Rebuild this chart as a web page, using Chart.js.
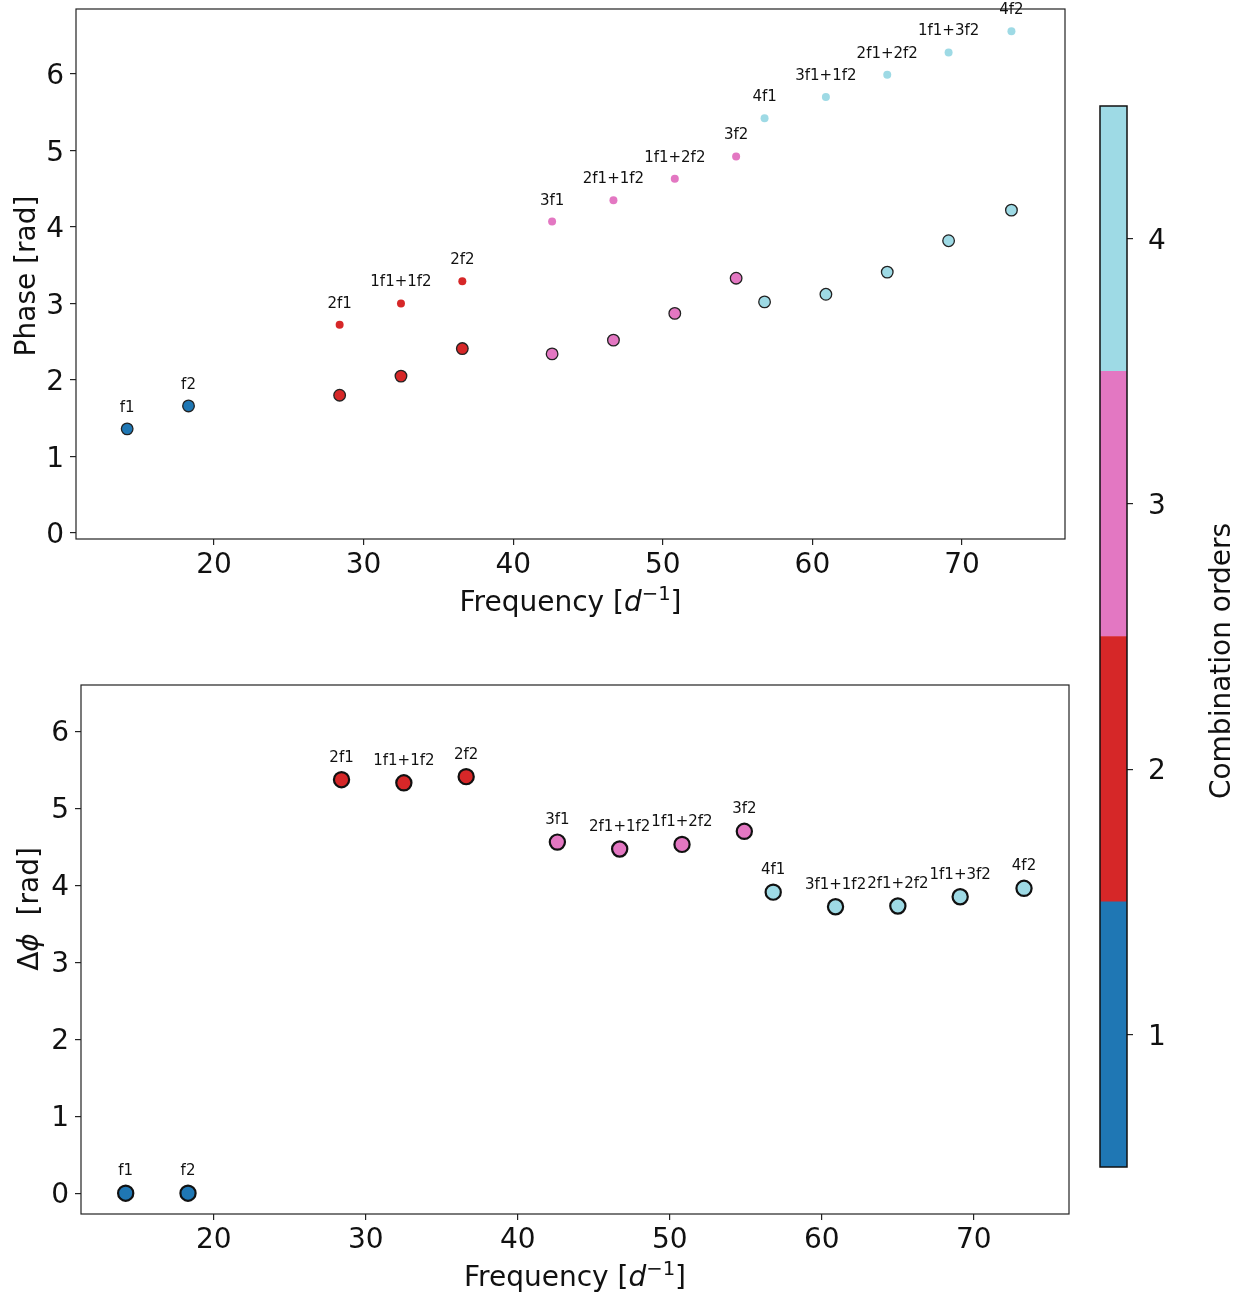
<!DOCTYPE html>
<html><head><meta charset="utf-8">
<script src="https://cdn.jsdelivr.net/npm/chart.js@4.4.1/dist/chart.umd.min.js"></script>
<style>
html,body{margin:0;padding:0;background:#fff;}
#wrap{position:relative;width:1244px;height:1297px;overflow:hidden;background:#fff;}
canvas{position:absolute;}
#c1{left:0;top:0;}
#c2{left:0;top:640px;}
#c3{left:1080px;top:90px;}
</style></head><body>
<div id="wrap">
<canvas id="c1" width="1080" height="630"></canvas>
<canvas id="c2" width="1080" height="657"></canvas>
<canvas id="c3" width="164" height="1100"></canvas>
</div>
<script>
// ---------------- data ----------------
const labels = ['f1','f2','2f1','1f1+1f2','2f2','3f1','2f1+1f2','1f1+2f2','3f2','4f1','3f1+1f2','2f1+2f2','1f1+3f2','4f2'];
const orders = [1,1,2,2,2,3,3,3,3,4,4,4,4,4];
const frequency = [14.2,18.3,28.4,32.5,36.6,42.6,46.7,50.8,54.9,56.8,60.9,65.0,69.1,73.3];
const phase = [1.36,1.66,1.80,2.05,2.41,2.34,2.52,2.87,3.33,3.02,3.12,3.41,3.82,4.22];
const phaseSum = [null,null,2.72,3.00,3.29,4.07,4.35,4.63,4.92,5.42,5.70,5.99,6.28,6.56];
const deltaPhi = [0,0,5.37,5.33,5.41,4.56,4.47,4.53,4.70,3.91,3.72,3.73,3.85,3.96];
const orderTicks = [1,2,3,4];
const orderColors = ['#1f77b4','#d62728','#e377c2','#9edae5'];
const freqTicks = [20,30,40,50,60,70];
const phaseTicks = [0,1,2,3,4,5,6];

const FONT = "'DejaVu Sans', sans-serif";
const pointColors = orders.map(o => orderColors[o-1]);
const toXY = ys => frequency.map((x,i) => ({x: x, y: ys[i]}));

// ---------------- plugins ----------------
const frame = {
  id: 'frame',
  afterDatasetsDraw(chart, args, opts) {
    const {left, top, right, bottom} = chart.chartArea;
    const ctx = chart.ctx;
    ctx.save();
    ctx.strokeStyle = opts.color || '#222';
    ctx.lineWidth = opts.width || 1.2;
    ctx.strokeRect(left, top, right-left, bottom-top);
    ctx.restore();
  }
};

const pointLabels = {
  id: 'pointLabels',
  afterDatasetsDraw(chart, args, opts) {
    if (!opts || !opts.anchors) return;
    const ctx = chart.ctx;
    ctx.save();
    ctx.font = '15px ' + FONT;
    ctx.fillStyle = '#111';
    ctx.textAlign = 'center';
    ctx.textBaseline = 'middle';
    labels.forEach((t, i) => {
      let el = null;
      for (const di of opts.anchors) {
        const e = chart.getDatasetMeta(di).data[i];
        if (e && !e.skip && isFinite(e.y)) { el = e; break; }
      }
      if (el) ctx.fillText(t, el.x, el.y - opts.offset);
    });
    ctx.restore();
  }
};

function drawParts(ctx, parts, size) {
  const segs = parts.map(p => {
    const s = p.sup ? size*0.7 : size;
    const font = (p.italic ? 'italic ' : '') + s + 'px ' + FONT;
    ctx.font = font;
    return {t: p.t, font: font, w: ctx.measureText(p.t).width, dy: p.sup ? -size*0.38 : 0};
  });
  const total = segs.reduce((a, s) => a + s.w, 0);
  let x = -total/2;
  ctx.textAlign = 'left';
  ctx.textBaseline = 'alphabetic';
  segs.forEach(s => {
    ctx.font = s.font;
    ctx.fillText(s.t, x, size*0.36 + s.dy);
    x += s.w;
  });
}

const axisTitles = {
  id: 'axisTitles',
  afterDraw(chart, args, opts) {
    if (!opts || !opts.items) return;
    const ctx = chart.ctx;
    const ca = chart.chartArea;
    ctx.save();
    ctx.fillStyle = '#111';
    opts.items.forEach(it => {
      ctx.save();
      const cx = it.x(ca), cy = it.y(ca);
      ctx.translate(cx, cy);
      if (it.rotate) ctx.rotate(-Math.PI/2);
      drawParts(ctx, it.parts, it.size || 28);
      ctx.restore();
    });
    ctx.restore();
  }
};

const freqTitle = [{t:'Frequency ['},{t:'d', italic:true},{t:'\u22121', sup:true},{t:']'}];

function fixTicks(arr) {
  return s => { s.ticks = arr.map(v => ({value: v})); };
}
function fitW(w) {
  return s => { s.width = w; s.paddingTop = 0; s.paddingBottom = 0; s.paddingLeft = 0; s.paddingRight = 0; };
}
function fitH(h) {
  return s => { s.height = h; s.paddingTop = 0; s.paddingBottom = 0; s.paddingLeft = 0; s.paddingRight = 0; };
}
const gridCfg = {drawOnChartArea:false, drawTicks:true, tickLength:6, color:'#222', lineWidth:1.2};
const tickFont = {family: FONT, size: 28};

function scatterScales(cfg) {
  return {
    x: {
      type: 'linear', min: cfg.xmin, max: cfg.xmax,
      afterBuildTicks: fixTicks(freqTicks),
      afterFit: fitH(cfg.xh),
      grid: gridCfg, border: {display:false},
      ticks: {font: tickFont, color:'#111', padding: 4, maxRotation: 0, autoSkip: false}
    },
    y: {
      type: 'linear', min: cfg.ymin, max: cfg.ymax,
      afterBuildTicks: fixTicks(phaseTicks),
      afterFit: fitW(cfg.yw),
      grid: gridCfg, border: {display:false},
      ticks: {font: tickFont, color:'#111', padding: 6, autoSkip: false, labelOffset: 3}
    }
  };
}

// ---------------- top chart: phases ----------------
new Chart(document.getElementById('c1'), {
  type: 'scatter',
  data: {
    datasets: [
      {
        label: 'Phase',
        data: toXY(phase),
        pointRadius: 5.8, pointHoverRadius: 5.8,
        pointBackgroundColor: pointColors,
        pointBorderColor: '#222', pointBorderWidth: 1.3
      },
      {
        label: 'Sum of phases',
        data: toXY(phaseSum),
        pointRadius: 4, pointHoverRadius: 4,
        pointBackgroundColor: pointColors,
        pointBorderWidth: 0, pointBorderColor: 'rgba(0,0,0,0)'
      }
    ]
  },
  options: {
    responsive: false, animation: false, devicePixelRatio: 1,
    layout: {padding: {top: 9, right: 15, left: 0, bottom: 0}},
    scales: scatterScales({xmin:10.78, xmax:76.88, ymin:-0.08, ymax:6.85, xh:91, yw:76}),
    plugins: {
      legend: {display:false}, tooltip: {enabled:false},
      pointLabels: {anchors:[1,0], offset:21},
      axisTitles: {items: [
        {parts: freqTitle, x: ca => (ca.left+ca.right)/2, y: ca => ca.bottom + 62},
        {parts: [{t:'Phase [rad]'}], rotate:true, x: ca => ca.left - 51, y: ca => 276}
      ]}
    }
  },
  plugins: [frame, pointLabels, axisTitles]
});

// ---------------- bottom chart: delta phi ----------------
new Chart(document.getElementById('c2'), {
  type: 'scatter',
  data: {
    datasets: [
      {
        label: 'Delta phi',
        data: toXY(deltaPhi),
        pointRadius: 7.6, pointHoverRadius: 7.6,
        pointBackgroundColor: pointColors,
        pointBorderColor: '#111', pointBorderWidth: 2.2
      }
    ]
  },
  options: {
    responsive: false, animation: false, devicePixelRatio: 1,
    layout: {padding: {top: 45, right: 11, left: 0, bottom: 0}},
    scales: scatterScales({xmin:11.26, xmax:76.26, ymin:-0.27, ymax:6.6, xh:83, yw:81}),
    plugins: {
      legend: {display:false}, tooltip: {enabled:false},
      pointLabels: {anchors:[0], offset:22},
      axisTitles: {items: [
        {parts: freqTitle, x: ca => (ca.left+ca.right)/2, y: ca => ca.bottom + 62},
        {parts: [{t:'\u0394'},{t:'\u03d5', italic:true},{t:'  [rad]'}], rotate:true, x: ca => ca.left - 53, y: ca => 269}
      ]}
    }
  },
  plugins: [frame, pointLabels, axisTitles]
});

// ---------------- colorbar ----------------
new Chart(document.getElementById('c3'), {
  type: 'bar',
  data: {
    labels: ['order'],
    datasets: orderTicks.map((o, i) => ({
      label: String(o),
      data: [[o - 0.5, o + 0.5]],
      backgroundColor: orderColors[i],
      borderWidth: 0, borderSkipped: false,
      barPercentage: 1, categoryPercentage: 1, grouped: false
    }))
  },
  options: {
    responsive: false, animation: false, devicePixelRatio: 1,
    layout: {padding: {left: 20, top: 16, bottom: 23, right: 0}},
    scales: {
      x: {display: false},
      y: {
        type: 'linear', position: 'right', min: 0.5, max: 4.5,
        afterBuildTicks: fixTicks(orderTicks),
        afterFit: fitW(117),
        grid: gridCfg, border: {display:false},
        ticks: {font: tickFont, color:'#111', padding: 15, autoSkip: false, labelOffset: 3}
      }
    },
    plugins: {
      legend: {display:false}, tooltip: {enabled:false},
      frame: {color:'#111', width:1.5},
      axisTitles: {items: [
        {parts: [{t:'Combination orders'}], rotate:true, x: ca => 140, y: ca => 571}
      ]}
    }
  },
  plugins: [frame, axisTitles]
});
</script>
</body></html>
